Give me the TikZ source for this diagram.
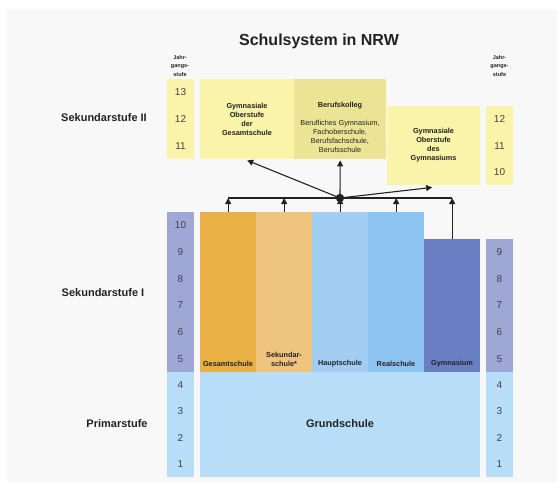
\documentclass[tikz,border=0pt]{standalone}
\usepackage{fontspec}
\setmainfont{Liberation Sans}
\usetikzlibrary{arrows.meta}
\definecolor{bg}{HTML}{F8F8F8}
\definecolor{ylw}{HTML}{F9F4A9}
\definecolor{bkol}{HTML}{ECE495}
\definecolor{ges}{HTML}{E9B045}
\definecolor{sek}{HTML}{EFC47F}
\definecolor{haupt}{HTML}{A3CEF4}
\definecolor{real}{HTML}{8EC4F2}
\definecolor{gym}{HTML}{6A7FC3}
\definecolor{purp}{HTML}{9EA7D6}
\definecolor{prim}{HTML}{B8DDF8}
\definecolor{txt}{HTML}{222222}
\begin{document}
\begin{tikzpicture}[x=1pt,y=-1pt,
  blk/.style={draw=none,inner sep=0pt,anchor=north west},
  num/.style={font=\fontsize{10}{12}\selectfont,text=txt!85},
  small/.style={font=\fontsize{7.3}{9}\selectfont\bfseries,text=txt,align=center},
  jg/.style={font=\fontsize{5.5}{8.5}\selectfont\bfseries,text=txt,align=center},
  lvl/.style={font=\fontsize{11}{13}\selectfont\bfseries,text=txt},
  arr/.style={draw=txt,line width=1.1pt,-{Triangle[width=6pt,length=6pt]}},
  bus/.style={draw=txt,line width=1.1pt}]
\useasboundingbox (0,0) rectangle (557,485);
\fill[bg] (7,9) rectangle (557,482);

\node[font=\fontsize{16}{18}\selectfont\bfseries,text=txt] (title) at (319,41) {Schulsystem in NRW};

% Jahrgangsstufe headers
\node[jg] (jgl) at (180,66) {Jahr-\\gangs-\\stufe};
\node[jg] (jgr) at (499.5,66) {Jahr-\\gangs-\\stufe};

% level labels
\node[lvl] (l2) at (104,118) {Sekundarstufe II};
\node[lvl] (l1) at (103,293) {Sekundarstufe I};
\node[lvl] (l0) at (117,424) {Primarstufe};

% year columns
\node[blk,fill=ylw,minimum width=27,minimum height=80] (c2l) at (167,79) {};
\node[blk,fill=ylw,minimum width=27,minimum height=79] (c2r) at (486,106) {};
\node[blk,fill=purp,minimum width=27,minimum height=160] (c1l) at (167,212) {};
\node[blk,fill=purp,minimum width=27,minimum height=133] (c1r) at (486,239) {};
\node[blk,fill=prim,minimum width=27,minimum height=105] (c0l) at (167,372) {};
\node[blk,fill=prim,minimum width=27,minimum height=105] (c0r) at (486,372) {};

\foreach \n [count=\i] in {13,12,11}
  \node[num] (nl\n) at (180.5,{79+26.7*(\i-0.5)}) {\n};
\foreach \n [count=\i] in {12,11,10}
  \node[num] (nr\n) at (499.5,{106+26.4*(\i-0.5)}) {\n};
\foreach \n [count=\i] in {10,9,8,7,6,5}
  \node[num] (ml\n) at (180.5,{212+26.67*(\i-0.5)}) {\n};
\foreach \n [count=\i] in {9,8,7,6,5}
  \node[num] (mr\n) at (499.5,{239+26.6*(\i-0.5)}) {\n};
\foreach \n [count=\i] in {4,3,2,1}
  \node[num] (pl\n) at (180.5,{372+26.25*(\i-0.5)}) {\n};
\foreach \n [count=\i] in {4,3,2,1}
  \node[num] (pr\n) at (499.5,{372+26.25*(\i-0.5)}) {\n};

% Sekundarstufe II boxes
\node[blk,fill=ylw,minimum width=94,minimum height=80] (gos) at (200,79) {};
\node[blk,fill=bkol,minimum width=92,minimum height=80] (bk) at (294,79) {};
\node[blk,fill=ylw,minimum width=93,minimum height=79] (gyo) at (387,106) {};
\node[small] (tgos) at (247,119.5) {Gymnasiale\\Oberstufe\\der\\Gesamtschule};
\node[small] (tbk) at (340,106) {Berufskolleg};
\node[font=\fontsize{7.3}{9}\selectfont,text=txt,align=center] (tbk2) at (340,136) {Berufliches Gymnasium,\\Fachoberschule,\\Berufsfachschule,\\Berufsschule};
\node[small] (tgyo) at (433.5,145.5) {Gymnasiale\\Oberstufe\\des\\Gymnasiums};

% Sekundarstufe I boxes
\node[blk,fill=ges,minimum width=56,minimum height=160] (sges) at (200,212) {};
\node[blk,fill=sek,minimum width=56,minimum height=160] (ssek) at (256,212) {};
\node[blk,fill=haupt,minimum width=56,minimum height=160] (shaupt) at (312,212) {};
\node[blk,fill=real,minimum width=56,minimum height=160] (sreal) at (368,212) {};
\node[blk,fill=gym,minimum width=56,minimum height=133] (sgym) at (424,239) {};
\node[small] at (228,364) {Gesamtschule};
\node[small] at (284,359.5) {Sekundar-\\schule*};
\node[small] at (340,364) {Hauptschule};
\node[small] at (396,364) {Realschule};
\node[small] at (452,364) {Gymnasium};

% Grundschule
\node[blk,fill=prim,minimum width=280,minimum height=105] (gs) at (200,372) {};
\node[lvl] (tgs) at (340,424) {Grundschule};

% connectors
\coordinate (hub) at (340,198);
\coordinate (busl) at (sges.north |- hub);
\coordinate (busr) at (sgym.north |- hub);
\draw[bus] (busl) -- (busr);
\foreach \b in {sges,ssek,shaupt,sreal,sgym}
  \draw[arr] (\b.north) -- (\b.north |- hub);
\draw[arr] (hub) -- ([yshift=-1pt]gos.south);
\draw[arr] (hub) -- ([yshift=-1pt]bk.south);
\draw[arr] (hub) -- ([xshift=-1.5pt,yshift=-2pt]gyo.south);
\fill[txt] (hub) circle [radius=4.2pt];
\end{tikzpicture}
\end{document}
